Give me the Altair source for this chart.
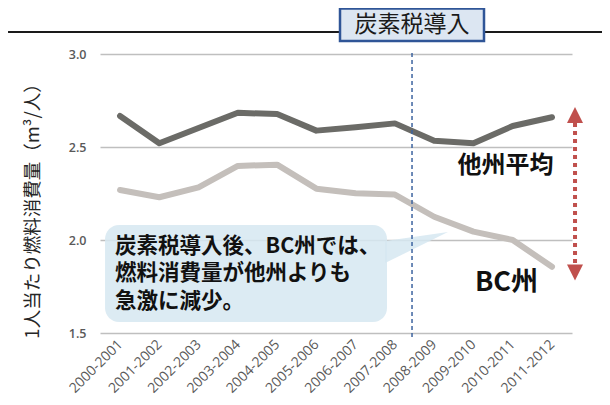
import altair as alt
import pandas as pd

# ---- data ----
years = ["2000-2001", "2001-2002", "2002-2003", "2003-2004", "2004-2005", "2005-2006",
         "2006-2007", "2007-2008", "2008-2009", "2009-2010", "2010-2011", "2011-2012"]
other_avg = [2.667, 2.520, 2.602, 2.684, 2.677, 2.588, 2.606, 2.627, 2.534, 2.520, 2.613, 2.660]
bc = [2.269, 2.230, 2.283, 2.398, 2.405, 2.276, 2.251, 2.244, 2.125, 2.045, 2.000, 1.856]
series_names = ["他州平均", "BC州"]
series_colors = ["#6b6b67", "#c4bfbb"]
y_ticks = [1.5, 2.0, 2.5, 3.0]
y_title = "1人当たり燃料消費量（m³/人）"
tax_label = "炭素税導入"
callout_lines = ["炭素税導入後、BC州では、", "燃料消費量が他州よりも", "急激に減少。"]

JP = "Noto Sans CJK JP"
idx = list(range(len(years)))
df = pd.DataFrame({
    "i": idx * 2,
    "v": other_avg + bc,
    "s": [series_names[0]] * len(years) + [series_names[1]] * len(years),
})

xs = alt.Scale(domain=[-0.51, 11.51], nice=False, zero=False)
ys = alt.Scale(domain=[1.5, 3.0], nice=False, zero=False)
label_expr = "[" + ",".join(f"'{y}'" for y in years) + "][datum.value]"

x_axis = alt.Axis(values=idx, labelExpr=label_expr, labelAngle=-45, labelAlign="right",
                  labelBaseline="middle", labelPadding=9, labelFont="Open Sans",
                  labelFontSize=14, labelColor="#595959", grid=False, domain=False,
                  ticks=False, title="", labelOverlap=False)
y_axis = alt.Axis(values=y_ticks, format=".1f", grid=True, gridColor="#bfbfbf", gridWidth=1.3,
                  domain=False, ticks=False, labelPadding=14, labelFont="Open Sans",
                  labelFontSize=12.5, labelFontWeight=600, labelColor="#595959",
                  title=y_title, titleFont=JP,
                  titleFontSize=18.5, titleFontWeight="normal", titleColor="#262626",
                  titleAngle=-90, titleX=-68, titleY=152, titleAlign="center",
                  titleBaseline="middle")

lines = alt.Chart(df).mark_line(strokeWidth=6, strokeCap="round", strokeJoin="round").encode(
    x=alt.X("i:Q", scale=xs, axis=x_axis),
    y=alt.Y("v:Q", scale=ys, axis=y_axis),
    color=alt.Color("s:N", scale=alt.Scale(domain=series_names, range=series_colors), legend=None),
)

def X(f):
    return alt.X(f, type="quantitative", scale=xs)

def Y(f):
    return alt.Y(f, type="quantitative", scale=ys)

# top black line
top_line = alt.Chart(pd.DataFrame({"x": [-2.852], "x2": [12.274], "y": [3.118]})).mark_rule(
    color="#1a1a1a", strokeWidth=2).encode(x=X("x"), x2="x2", y=Y("y"))

# title box
box = alt.Chart(pd.DataFrame({"x": [5.602], "x2": [9.269], "y": [3.245], "y2": [3.070]})).mark_rect(
    fill="#dce6f2", stroke="#2f5597", strokeWidth=2.5).encode(x=X("x"), x2="x2", y=Y("y"), y2="y2")
box_text = alt.Chart(pd.DataFrame({"x": [7.436], "y": [3.154], "t": [tax_label]})).mark_text(
    font=JP, fontSize=23, color="#1a1a1a", align="center", baseline="middle").encode(
    x=X("x"), y=Y("y"), text="t:N")

# dashed vertical line
vline = alt.Chart(pd.DataFrame({"x": [7.436], "y": [3.005], "y2": [1.478]})).mark_rule(
    color="#3e64a0", strokeWidth=1.5, strokeDash=[4, 3]).encode(x=X("x"), y=Y("y"), y2="y2")

# callout bubble
bubble = alt.Chart(pd.DataFrame({"x": [-0.382], "x2": [6.799], "y": [2.081], "y2": [1.559]})).mark_rect(
    fill="#d6e8f1", opacity=0.85, cornerRadius=14).encode(x=X("x"), x2="x2", y=Y("y"), y2="y2")
tail = alt.Chart(pd.DataFrame({"x": [6.75, 8.352], "y": [1.995, 2.043], "y2": [1.876, 2.043]})).mark_area(
    fill="#d6e8f1", opacity=0.85).encode(x=X("x"), y=Y("y"), y2="y2")
callout = alt.Chart(pd.DataFrame({"x": [-0.127] * 3, "y": [1.962, 1.817, 1.667], "t": callout_lines})).mark_text(
    font=JP, fontSize=21.5, fontWeight="bold", color="#111111", align="left", baseline="middle").encode(
    x=X("x"), y=Y("y"), text="t:N")

# series labels
series_lbl = alt.Chart(pd.DataFrame({"x": [9.817, 9.842], "y": [2.398, 1.769], "t": series_names,
                                     "fs": [24, 27]})).mark_text(
    font=JP, fontWeight="bold", color="#111111", align="center", baseline="middle").encode(
    x=X("x"), y=Y("y"), text="t:N", size=alt.Size("fs:Q", scale=None, legend=None))

# red dotted double arrow
shaft = alt.Chart(pd.DataFrame({"x": [11.587], "y": [2.629], "y2": [1.866]})).mark_rule(
    color="#c0504d", strokeWidth=4, strokeDash=[4, 4]).encode(x=X("x"), y=Y("y"), y2="y2")
head_up = alt.Chart(pd.DataFrame({"x": [11.587], "y": [2.672]})).mark_point(
    shape="M0,-1L1,1L-1,1Z", size=256, filled=True, color="#c0504d", opacity=1).encode(x=X("x"), y=Y("y"))
head_dn = alt.Chart(pd.DataFrame({"x": [11.587], "y": [1.825]})).mark_point(
    shape="M0,1L1,-1L-1,-1Z", size=256, filled=True, color="#c0504d", opacity=1).encode(x=X("x"), y=Y("y"))

chart = alt.layer(
    lines, bubble, tail, callout, vline, top_line, box, box_text, series_lbl, shaft, head_up, head_dn
).properties(
    width=472, height=279,
    autosize=alt.AutoSizeParams(type="none"),
    padding={"left": 92, "top": 46, "right": 30, "bottom": 64},
).configure_view(stroke=None)

chart.save("out.html", embed_options={"renderer": "svg", "actions": False})
